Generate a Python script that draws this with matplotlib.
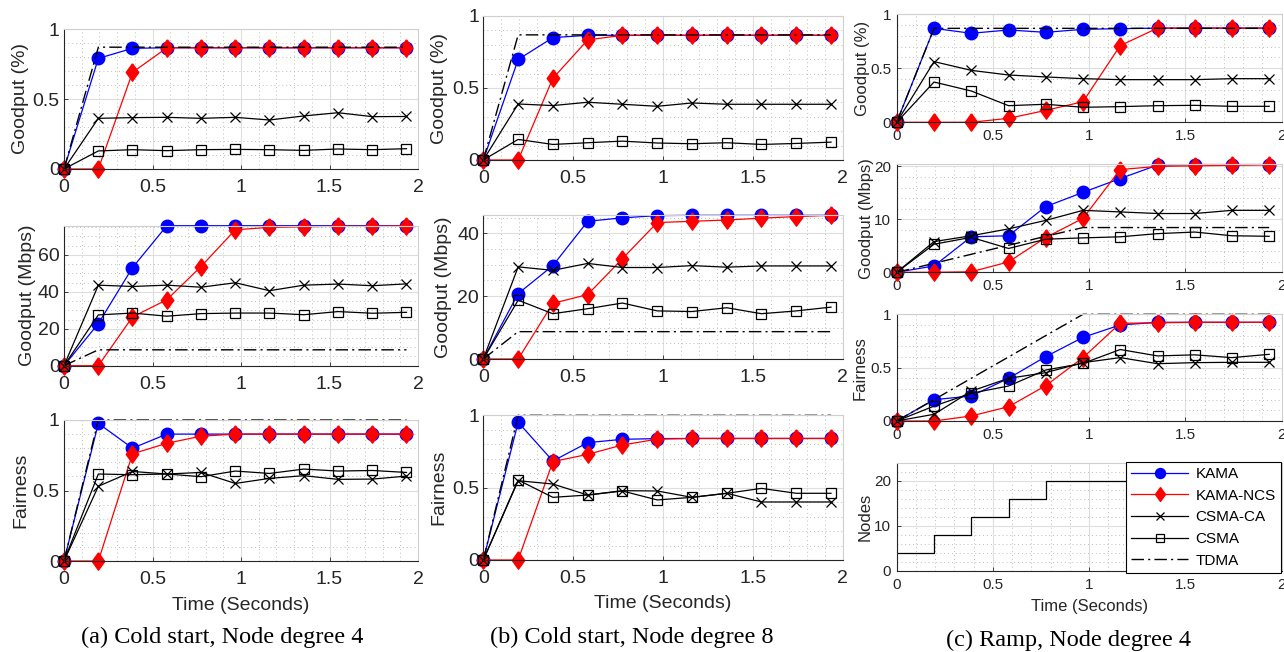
import matplotlib
matplotlib.use("Agg")
import matplotlib.pyplot as plt
from matplotlib.ticker import MultipleLocator, FuncFormatter

plt.rcParams["font.family"] = ["Liberation Sans", "DejaVu Sans"]

W, H = 1284, 652

names = ["KAMA", "KAMA-NCS", "CSMA-CA", "CSMA", "TDMA"]
t = [0, 0.194, 0.387, 0.581, 0.774, 0.968, 1.161, 1.355, 1.548, 1.742, 1.935]

# (a) cold start, node degree 4
a_pct_kama = [0, 0.79, 0.862, 0.866, 0.866, 0.866, 0.866, 0.866, 0.866, 0.866, 0.866]
a_pct_ncs = [0, 0, 0.69, 0.866, 0.866, 0.866, 0.866, 0.866, 0.866, 0.866, 0.866]
a_pct_csmaca = [0, 0.362, 0.367, 0.369, 0.362, 0.369, 0.35, 0.379, 0.402, 0.374, 0.375]
a_pct_csma = [0, 0.129, 0.138, 0.131, 0.138, 0.14, 0.138, 0.133, 0.143, 0.138, 0.145]
a_pct_tdma = [0, 0.87, 0.87, 0.87, 0.87, 0.87, 0.87, 0.87, 0.87, 0.87, 0.87]

a_mbps_kama = [0, 22.8, 53.1, 75.8, 75.8, 75.8, 75.8, 75.8, 75.8, 75.8, 75.8]
a_mbps_ncs = [0, 0, 26.4, 35.7, 53.7, 73.6, 74.9, 75.2, 75.5, 75.5, 75.8]
a_mbps_csmaca = [0, 43.6, 42.9, 43.6, 42.5, 44.9, 40.6, 43.6, 44.2, 43.3, 44.3]
a_mbps_csma = [0, 27.5, 28.5, 26.8, 28.2, 28.5, 28.5, 27.6, 29.3, 28.4, 28.9]
a_mbps_tdma = [0, 8.6, 8.6, 8.6, 8.6, 8.6, 8.6, 8.6, 8.6, 8.6, 8.6]

a_fair_kama = [0, 0.976, 0.80, 0.90, 0.90, 0.90, 0.90, 0.90, 0.90, 0.90, 0.90]
a_fair_ncs = [0, 0, 0.76, 0.835, 0.885, 0.90, 0.90, 0.90, 0.90, 0.90, 0.90]
a_fair_csmaca = [0, 0.53, 0.635, 0.617, 0.628, 0.55, 0.586, 0.605, 0.579, 0.581, 0.602]
a_fair_csma = [0, 0.617, 0.612, 0.617, 0.598, 0.638, 0.621, 0.652, 0.638, 0.642, 0.628]
a_fair_tdma = [0, 1, 1, 1, 1, 1, 1, 1, 1, 1, 1]

# (b) cold start, node degree 8
b_pct_kama = [0, 0.698, 0.85, 0.866, 0.866, 0.866, 0.866, 0.866, 0.866, 0.866, 0.866]
b_pct_ncs = [0, 0, 0.567, 0.834, 0.866, 0.866, 0.866, 0.866, 0.866, 0.866, 0.866]
b_pct_csmaca = [0, 0.389, 0.378, 0.401, 0.387, 0.373, 0.396, 0.387, 0.387, 0.387, 0.387]
b_pct_csma = [0, 0.143, 0.108, 0.12, 0.131, 0.118, 0.113, 0.12, 0.108, 0.115, 0.124]
b_pct_tdma = [0, 0.869, 0.869, 0.869, 0.869, 0.869, 0.869, 0.869, 0.869, 0.869, 0.869]

b_mbps_kama = [0, 20.8, 29.7, 43.8, 44.9, 45.6, 45.7, 45.7, 45.7, 45.7, 45.7]
b_mbps_ncs = [0, 0, 17.7, 20.5, 31.9, 43.4, 43.8, 44.2, 44.8, 45.3, 45.7]
b_mbps_csmaca = [0, 29.3, 28.2, 30.4, 29.1, 29.1, 29.7, 29.2, 29.6, 29.6, 29.6]
b_mbps_csma = [0, 18.7, 14.4, 16.0, 17.8, 15.3, 15.1, 16.3, 14.4, 15.3, 16.5]
b_mbps_tdma = [0, 8.7, 8.7, 8.7, 8.7, 8.7, 8.7, 8.7, 8.7, 8.7, 8.7]

b_fair_kama = [0, 0.952, 0.684, 0.811, 0.834, 0.839, 0.84, 0.84, 0.84, 0.84, 0.84]
b_fair_ncs = [0, 0, 0.68, 0.73, 0.795, 0.835, 0.84, 0.84, 0.84, 0.84, 0.84]
b_fair_csmaca = [0, 0.548, 0.525, 0.449, 0.479, 0.477, 0.433, 0.461, 0.401, 0.401, 0.401]
b_fair_csma = [0, 0.553, 0.433, 0.449, 0.477, 0.415, 0.433, 0.461, 0.495, 0.461, 0.461]
b_fair_tdma = [0, 1, 1, 1, 1, 1, 1, 1, 1, 1, 1]

# (c) ramp, node degree 4
c_pct_kama = [0, 0.87, 0.824, 0.855, 0.833, 0.861, 0.867, 0.872, 0.872, 0.872, 0.872]
c_pct_ncs = [0, 0, 0, 0.037, 0.11, 0.191, 0.71, 0.872, 0.872, 0.872, 0.872]
c_pct_csmaca = [0, 0.562, 0.481, 0.438, 0.42, 0.404, 0.395, 0.395, 0.395, 0.404, 0.404]
c_pct_csma = [0, 0.373, 0.29, 0.154, 0.167, 0.139, 0.145, 0.154, 0.157, 0.148, 0.148]
c_pct_tdma = [0, 0.87, 0.87, 0.87, 0.87, 0.87, 0.87, 0.87, 0.87, 0.87, 0.87]

c_mbps_kama = [0, 1.2, 6.7, 6.9, 12.4, 15.1, 17.7, 20.25, 20.35, 20.35, 20.35]
c_mbps_ncs = [0, 0, 0.1, 1.96, 6.56, 10.2, 19.4, 20.0, 20.1, 20.2, 20.3]
c_mbps_csmaca = [0, 5.8, 6.9, 8.2, 9.8, 11.7, 11.4, 11.1, 11.1, 11.7, 11.7]
c_mbps_csma = [0, 5.3, 6.6, 4.5, 6.25, 6.5, 6.7, 7.3, 7.6, 6.9, 6.8]
c_mbps_tdma = [0, 1.7, 3.4, 5.1, 6.8, 8.45, 8.45, 8.45, 8.45, 8.45, 8.45]

c_fair_kama = [0, 0.20, 0.234, 0.40, 0.603, 0.784, 0.90, 0.925, 0.925, 0.925, 0.925]
c_fair_ncs = [0, 0, 0.047, 0.134, 0.331, 0.594, 0.916, 0.92, 0.925, 0.925, 0.925]
c_fair_csmaca = [0, 0.063, 0.28, 0.40, 0.453, 0.547, 0.594, 0.537, 0.547, 0.55, 0.55]
c_fair_csma = [0, 0.14, 0.26, 0.328, 0.478, 0.54, 0.67, 0.61, 0.62, 0.594, 0.625]
c_fair_tdma = [0, 0.2, 0.4, 0.6, 0.8, 1, 1, 1, 1, 1, 1]

c_nodes = [4, 8, 12, 16, 20, 20, 20, 20, 20, 20, 20]

DIAMOND = [(0, 1), (0.72, 0), (0, -1), (-0.72, 0), (0, 1)]
styles = {
    "KAMA": dict(color="#0000ff", marker="o", ms=9, mfc="#0000ff", mec="#0000ff", lw=0.9),
    "KAMA-NCS": dict(color="#ff0000", marker=DIAMOND, ms=12.5, mfc="#ff0000", mec="#ff0000", lw=0.9),
    "CSMA-CA": dict(color="black", marker="x", ms=7, mew=0.9, lw=0.9),
    "CSMA": dict(color="black", marker="s", ms=7, mfc="none", mew=0.9, lw=0.9),
    "TDMA": dict(color="black", linestyle=(0, (9, 3, 1.5, 3)), lw=1.0),
}

fmt = FuncFormatter(lambda v, p: f"{v:g}")


def pos(left, right, top, bottom):
    return [left / W, 1 - bottom / H, (right - left) / W, (bottom - top) / H]


def style_axes(ax, ylim, ystep, yminor, ylabel, label_x, fs_tick, fs_label, pad):
    ax.set_xlim(0, 2)
    ax.set_ylim(*ylim)
    ax.xaxis.set_major_locator(MultipleLocator(0.5))
    ax.xaxis.set_minor_locator(MultipleLocator(0.1))
    ax.yaxis.set_major_locator(MultipleLocator(ystep))
    ax.yaxis.set_minor_locator(MultipleLocator(yminor))
    ax.xaxis.set_major_formatter(fmt)
    ax.yaxis.set_major_formatter(fmt)
    ax.grid(which="major", color="#dedede", lw=0.8)
    ax.grid(which="minor", color="#bdbdbd", lw=0.7, linestyle=(0, (1, 3)))
    ax.set_axisbelow(True)
    ax.tick_params(which="both", direction="in", colors="#262626", labelsize=fs_tick)
    ax.tick_params(which="major", length=3, width=0.6)
    ax.tick_params(which="minor", length=0)
    ax.tick_params(axis="x", pad=pad[0])
    ax.tick_params(axis="y", pad=pad[1])
    for s in ["left", "bottom"]:
        ax.spines[s].set_color("#262626")
        ax.spines[s].set_linewidth(0.8)
    for s in ["top", "right"]:
        ax.spines[s].set_color("#cfcfcf")
        ax.spines[s].set_linewidth(0.8)
    ax.set_ylabel(ylabel, fontsize=fs_label, color="#262626")
    ax.yaxis.label.set_va("center")
    ax.yaxis.set_label_coords(label_x, 0.5)


def draw(ax, series):
    for name, ys in zip(names, series):
        ax.plot(t, ys, label=name, clip_on=False, **styles[name])


fig = plt.figure(figsize=(W / 100, H / 100), dpi=100)

panels = [
    # (series, left, right, top, bottom, ylim, ystep, yminor, ylabel, label center px)
    ([a_pct_kama, a_pct_ncs, a_pct_csmaca, a_pct_csma, a_pct_tdma], 64, 418, 29, 169,
     (0, 1), 0.5, 0.1, "Goodput (%)", 21),
    ([a_mbps_kama, a_mbps_ncs, a_mbps_csmaca, a_mbps_csma, a_mbps_tdma], 64, 418, 225.7, 365.7,
     (0, 75.8), 20, 5, "Goodput (Mbps)", 27),
    ([a_fair_kama, a_fair_ncs, a_fair_csmaca, a_fair_csma, a_fair_tdma], 64, 418, 420, 561,
     (0, 1), 0.5, 0.1, "Fairness", 20.5),
    ([b_pct_kama, b_pct_ncs, b_pct_csmaca, b_pct_csma, b_pct_tdma], 483.3, 842.7, 16, 160,
     (0, 1), 0.5, 0.1, "Goodput (%)", 440),
    ([b_mbps_kama, b_mbps_ncs, b_mbps_csmaca, b_mbps_csma, b_mbps_tdma], 483.3, 842.7, 215, 359,
     (0, 45.8), 20, 5, "Goodput (Mbps)", 444),
    ([b_fair_kama, b_fair_ncs, b_fair_csmaca, b_fair_csma, b_fair_tdma], 483.3, 842.7, 415.3, 560,
     (0, 1), 0.5, 0.1, "Fairness", 439),
    ([c_pct_kama, c_pct_ncs, c_pct_csmaca, c_pct_csma, c_pct_tdma], 896.7, 1281.7, 14.3, 122.3,
     (0, 1), 0.5, 0.1, "Goodput (%)", 862),
    ([c_mbps_kama, c_mbps_ncs, c_mbps_csmaca, c_mbps_csma, c_mbps_tdma], 896.7, 1281.7, 164, 272.3,
     (0, 20.45), 10, 2, "Goodput (Mbps)", 866),
    ([c_fair_kama, c_fair_ncs, c_fair_csmaca, c_fair_csma, c_fair_tdma], 896.7, 1281.7, 314.3, 421,
     (0, 1), 0.5, 0.1, "Fairness", 860),
]

axes = []
for i, (series, l, r, tp, bt, ylim, ystep, yminor, ylabel, lx) in enumerate(panels):
    ax = fig.add_axes(pos(l, r, tp, bt))
    draw(ax, series)
    small = i >= 6
    style_axes(ax, ylim, ystep, yminor, ylabel, (lx - l) / (r - l),
               11 if small else 14, 12 if small else 14,
               (5, 4) if small else (7.5, 3))
    axes.append(ax)

# nodes panel under (c)
l, r, tp, bt = 896.7, 1281.7, 462.7, 571
axn = fig.add_axes(pos(l, r, tp, bt))
axn.step(t, c_nodes, where="post", color="black", lw=0.9)
axn.hlines(c_nodes[-1], t[-1], 2, color="black", lw=0.9)
style_axes(axn, (0, 24), 10, 2, "Nodes", (865 - l) / (r - l), 11, 12, (5, 4))

# x labels on the bottom row
for ax, top, bot, yc in [(axes[2], 420, 561, 605), (axes[5], 415.3, 560, 604), (axn, 462.7, 571, 606.7)]:
    fs = 12 if ax is axn else 14
    ax.set_xlabel("Time (Seconds)", fontsize=fs, color="#262626")
    ax.xaxis.label.set_va("center")
    ax.xaxis.set_label_coords(0.5, -(yc - bot) / (bot - top))

handles, labels = axes[-1].get_legend_handles_labels()
leg = fig.legend(handles, labels, loc="upper left",
                 bbox_to_anchor=(1126 / W, 1 - 461.7 / H), bbox_transform=fig.transFigure,
                 fontsize=11, handlelength=3.7, borderpad=0.35, labelspacing=0.5,
                 handletextpad=0.5, borderaxespad=0, fancybox=False, framealpha=1,
                 edgecolor="black", markerscale=0.8)
leg.get_frame().set_linewidth(0.8)

captions = [
    ("(a) Cold start, Node degree 4", 222, 637),
    ("(b) Cold start, Node degree 8", 632, 637),
    ("(c) Ramp, Node degree 4", 1068, 640),
]
for text, x, y in captions:
    fig.text(x / W, 1 - y / H, text, ha="center", va="center", fontsize=17.5,
             family=["Liberation Serif", "DejaVu Serif"], color="black")

fig.savefig("out.png", dpi=100)
